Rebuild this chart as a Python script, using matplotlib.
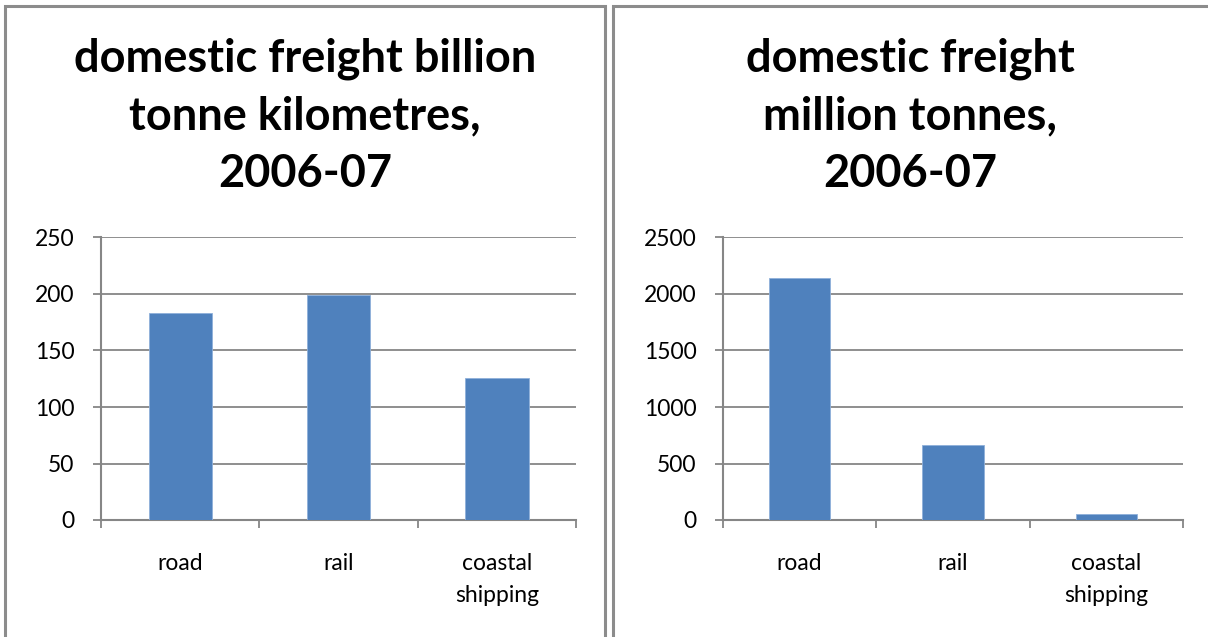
import matplotlib.pyplot as plt
from matplotlib.patches import Rectangle

# data
categories = ['road', 'rail', 'coastal\nshipping']
tonne_km = [183, 199, 126]        # billion tonne kilometres
tonnes = [2145, 660, 50]          # million tonnes

titles = ['domestic freight billion\ntonne kilometres,\n2006-07',
          'domestic freight\nmillion tonnes,\n2006-07']
yticks_left = [0, 50, 100, 150, 200, 250]
yticks_right = [0, 500, 1000, 1500, 2000, 2500]

bar_color = '#4F81BD'
grid_color = '#868686'

plt.rcParams['font.family'] = ['Lato', 'DejaVu Sans']

W, H = 1208, 637
fig = plt.figure(figsize=(W / 100, H / 100), dpi=100)

# panel borders
for x0, x1 in [(5, 605), (613, 1212)]:
    fig.patches.append(Rectangle((x0 / W, -0.05), (x1 - x0) / W, (H - 6) / H + 0.05,
                                 transform=fig.transFigure, fill=False,
                                 edgecolor='#8c8c8c', linewidth=2.2))


def draw_panel(rect, values, ticks, title, title_x):
    ax = fig.add_axes(rect)
    x = range(len(values))
    ax.bar(x, values, width=0.4, color=bar_color, edgecolor='#8fb0da',
           linewidth=0.6, zorder=3)
    ax.set_xlim(-0.5, len(values) - 0.5)
    ax.set_ylim(0, ticks[-1])
    ax.set_yticks(ticks)
    ax.yaxis.grid(True, color=grid_color, linewidth=1.3, zorder=0)
    ax.set_xticks(list(x))
    ax.set_xticklabels(categories, fontsize=16.5, linespacing=1.65)
    ax.tick_params(axis='x', length=0, pad=24)
    # category boundary ticks
    ax.set_xticks([i - 0.5 for i in range(len(values) + 1)], minor=True)
    ax.tick_params(axis='x', which='minor', length=6, width=1.3, color=grid_color)
    ax.tick_params(axis='y', length=6, width=1.3, color=grid_color, labelsize=16.5,
                   pad=13)
    for s in ['top', 'right']:
        ax.spines[s].set_visible(False)
    for s in ['left', 'bottom']:
        ax.spines[s].set_color(grid_color)
        ax.spines[s].set_linewidth(1.5)
    fig.text(title_x / W, 1 - 37 / H, title, ha='center', va='top',
             fontsize=32.5, fontweight='bold', linespacing=1.46)
    return ax


draw_panel([101 / W, 1 - 520 / H, 475 / W, 282.5 / H], tonne_km, yticks_left,
           titles[0], 305)
draw_panel([723 / W, 1 - 520 / H, 460 / W, 282.5 / H], tonnes, yticks_right,
           titles[1], 910)

fig.savefig('out.png', dpi=100)
